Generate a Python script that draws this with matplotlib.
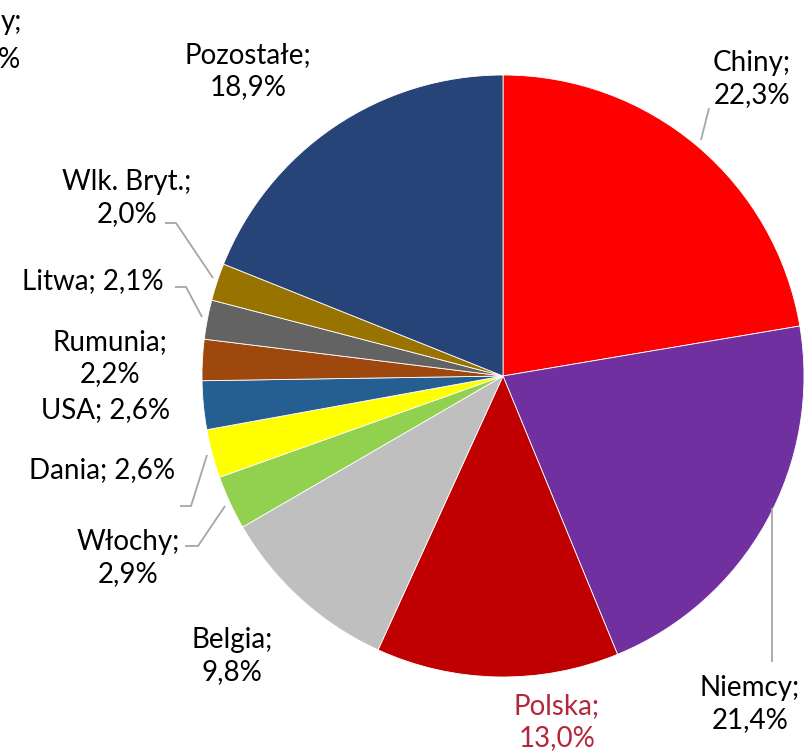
import matplotlib.pyplot as plt
from matplotlib.patches import Wedge

W, H = 805, 754

countries = ['Chiny', 'Niemcy', 'Polska', 'Belgia', 'Włochy', 'Dania', 'USA',
             'Rumunia', 'Litwa', 'Wlk. Bryt.', 'Pozostałe']
shares = [22.3, 21.4, 13.0, 9.8, 2.9, 2.6, 2.6, 2.2, 2.1, 2.0, 18.9]
colors = ['#FF0000', '#7030A0', '#C00000', '#BFBFBF', '#92D050', '#FFFF00',
          '#255E91', '#9E480E', '#636363', '#997300', '#264478']

# label text layout: (x, y from top, two-line?)
label_pos = {
    'Chiny': (752, 79, True),
    'Niemcy': (750, 704, True),
    'Polska': (557, 722, True),
    'Belgia': (232, 656, True),
    'Włochy': (128, 558, True),
    'Dania': (102, 470, False),
    'USA': (106, 410, False),
    'Rumunia': (110, 358, True),
    'Litwa': (93, 281, False),
    'Wlk. Bryt.': (127, 198, True),
    'Pozostałe': (248, 71, True),
}

# leader lines in pixel coords (from top)
leaders = {
    'Chiny': [(709, 108), (701, 140)],
    'Niemcy': [(772, 508), (772, 662)],
    'Wlk. Bryt.': [(165, 223), (176, 223), (213, 278)],
    'Litwa': [(175, 287), (186, 287), (202, 317)],
    'Dania': [(180, 506), (191, 506), (207, 455)],
    'Włochy': [(185, 546), (198, 546), (225, 506)],
}

plt.rcParams['font.family'] = ['Lato', 'DejaVu Sans']

fig = plt.figure(figsize=(W / 100, H / 100), dpi=100)
ax = fig.add_axes([0, 0, 1, 1])
ax.set_xlim(0, W)
ax.set_ylim(0, H)
ax.set_aspect('equal')
ax.axis('off')

cx, cy, r = 503, H - 376, 301
total = sum(shares)
start = 90.0
for name, val, col in zip(countries, shares, colors):
    sweep = 360.0 * val / total
    ax.add_patch(Wedge((cx, cy), r, start - sweep, start, facecolor=col,
                       edgecolor='white', linewidth=0.6))
    start -= sweep

for name, pts in leaders.items():
    xs = [p[0] for p in pts]
    ys = [H - p[1] for p in pts]
    ax.plot(xs, ys, color='#A6A6A6', lw=1.3, solid_capstyle='butt')

for name, val in zip(countries, shares):
    x, y, two = label_pos[name]
    pct = f'{val:.1f}'.replace('.', ',') + '%'
    txt = f'{name};\n{pct}' if two else f'{name}; {pct}'
    col = '#B5263A' if name == 'Polska' else 'black'
    ax.text(x, H - y, txt, ha='center', va='center', fontsize=20,
            color=col, linespacing=1.25)

# fragment of a neighbouring label cut by the left edge
ax.text(22, H - 22, 'y;', ha='right', va='center', fontsize=20)
ax.text(20, H - 60, '%', ha='right', va='center', fontsize=20)

fig.savefig('out.png', dpi=100)
